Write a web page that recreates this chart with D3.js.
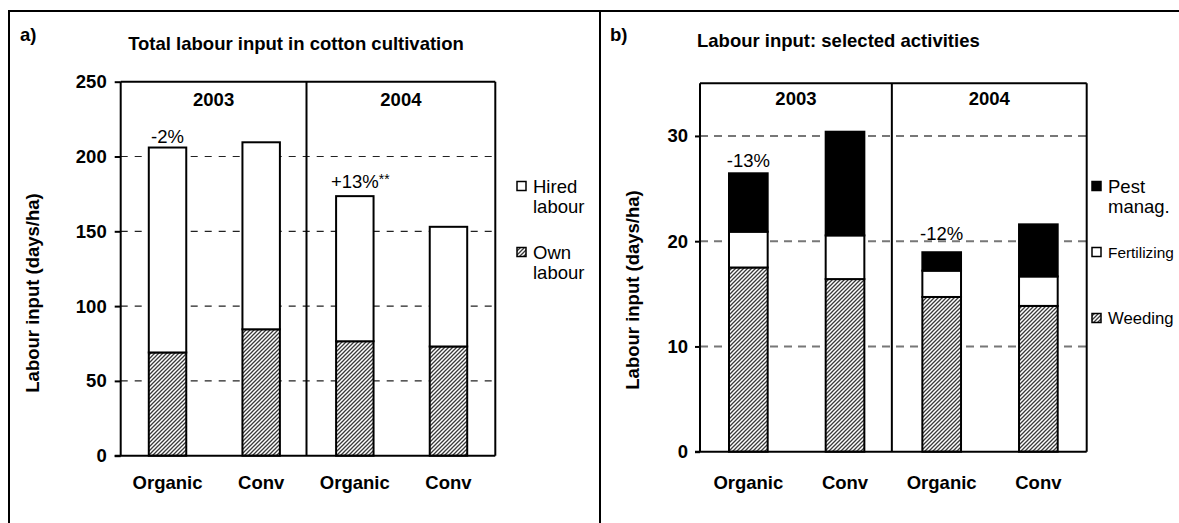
<!DOCTYPE html>
<html>
<head>
<meta charset="utf-8">
<script src="https://cdn.jsdelivr.net/npm/d3@7"></script>
<style>
  html, body { margin: 0; padding: 0; background: #fff; }
  svg { display: block; }
  text { font-family: "Liberation Sans", Arial, sans-serif; }
</style>
</head>
<body>
<svg id="chart" width="1179" height="523"></svg>
<script>
// ---------------- data ----------------
const categories = ["Organic", "Conv", "Organic", "Conv"];
const years = ["2003", "2004"];

// panel a: total labour (days/ha)
const ownLabour   = [69, 84.5, 76.5, 73];
const hiredLabour = [137, 125, 97, 80];
const annotA = ["-2%", "", "+13%", ""];
const annotSupA = ["", "", "**", ""];
const ticksA = [0, 50, 100, 150, 200, 250];

// panel b: selected activities (days/ha)
const weeding     = [17.5, 16.4, 14.7, 13.85];
const fertilizing = [3.4, 4.15, 2.5, 2.8];
const pestManag   = [5.55, 9.85, 1.75, 4.95];
const annotB = ["-13%", "", "-12%", ""];
const ticksB = [0, 10, 20, 30];

const legendA = ["Hired|labour", "Own|labour"];
const legendB = ["Pest|manag.", "Fertilizing", "Weeding"];

// ---------------- drawing ----------------
const svg = d3.select("#chart");
const W = 1179;
const FS = 18.5;
const FONT = '"Liberation Sans", Arial, sans-serif';

const defs = svg.append("defs");
const pat = defs.append("pattern")
  .attr("id", "hatch").attr("patternUnits", "userSpaceOnUse")
  .attr("width", 4).attr("height", 4);
pat.append("rect").attr("width", 4).attr("height", 4).attr("fill", "#fff");
pat.append("path").attr("d", "M-1,1 l2,-2 M0,4 l4,-4 M3,5 l2,-2")
  .attr("stroke", "#3a3a3a").attr("stroke-width", 1.3);

// panel borders
svg.append("line").attr("x1", 8).attr("x2", W).attr("y1", 11).attr("y2", 11)
  .attr("stroke", "#000").attr("stroke-width", 2);
svg.append("line").attr("x1", 9).attr("x2", 9).attr("y1", 10).attr("y2", 523)
  .attr("stroke", "#000").attr("stroke-width", 2);
svg.append("line").attr("x1", 600).attr("x2", 600).attr("y1", 10).attr("y2", 523)
  .attr("stroke", "#000").attr("stroke-width", 2);

function panel(cfg) {
  const g = svg.append("g");
  const x = d3.scaleBand().domain(d3.range(categories.length))
    .range(cfg.xRange).paddingInner(0.6).paddingOuter(0.3);
  const y = d3.scaleLinear().domain(cfg.yDomain).range(cfg.yRange);
  const [x0, x1] = cfg.xRange;

  // gridlines
  g.append("g").selectAll("line").data(cfg.ticks.filter(t => t > 0 && t < cfg.yDomain[1]))
    .join("line")
    .attr("x1", x0).attr("x2", x1)
    .attr("y1", d => y(d)).attr("y2", d => y(d))
    .attr("stroke", cfg.gridColor).attr("stroke-width", cfg.gridWidth)
    .attr("stroke-dasharray", cfg.gridDash);

  // stacked bars
  const stack = d3.stack().keys(d3.range(cfg.series.length))
    .value((d, k) => cfg.series[k][d]);
  const layers = stack(d3.range(categories.length));
  layers.forEach((layer, k) => {
    g.append("g").selectAll("rect").data(layer).join("rect")
      .attr("x", (d, i) => x(i))
      .attr("width", x.bandwidth())
      .attr("y", d => y(d[1]))
      .attr("height", d => y(d[0]) - y(d[1]))
      .attr("fill", cfg.fills[k])
      .attr("stroke", "#000").attr("stroke-width", 2);
  });

  // separator between years
  const sep = (x(1) + x.bandwidth() + x(2)) / 2 - 1.5;
  g.append("line").attr("x1", sep).attr("x2", sep)
    .attr("y1", y(cfg.yDomain[1])).attr("y2", y(0))
    .attr("stroke", "#000").attr("stroke-width", 2);
  // frame top & right
  g.append("line").attr("x1", x0).attr("x2", x1)
    .attr("y1", y(cfg.yDomain[1])).attr("y2", y(cfg.yDomain[1]))
    .attr("stroke", "#000").attr("stroke-width", 2);
  g.append("line").attr("x1", x1).attr("x2", x1)
    .attr("y1", y(cfg.yDomain[1])).attr("y2", y(0))
    .attr("stroke", "#000").attr("stroke-width", 2);

  // year labels
  const yearX = [(x0 + sep) / 2, (sep + x1) / 2];
  g.selectAll("text.year").data(years).join("text").attr("class", "year")
    .attr("x", (d, i) => yearX[i]).attr("y", cfg.yearY)
    .attr("text-anchor", "middle").attr("dominant-baseline", "central")
    .attr("font-size", FS).attr("font-weight", "bold").text(d => d);

  // y axis
  const ya = g.append("g").attr("transform", `translate(${x0},0)`)
    .call(d3.axisLeft(y).tickValues(cfg.ticks).tickSize(cfg.tickSize)
      .tickPadding(cfg.tickPad).tickFormat(d3.format("d")));
  ya.select(".domain").attr("stroke", "#000").attr("stroke-width", 2)
    .attr("d", `M0,${y(cfg.yDomain[1])}V${y(0)}`);
  ya.selectAll(".tick line").attr("stroke", "#000").attr("stroke-width", 2);
  ya.selectAll(".tick text").attr("font-family", FONT).attr("font-size", FS)
    .attr("font-weight", "bold").attr("fill", "#000");

  // x axis
  const xa = g.append("g").attr("transform", `translate(0,${y(0)})`)
    .call(d3.axisBottom(x).tickSize(0).tickPadding(cfg.xPad).tickFormat(i => categories[i]));
  xa.select(".domain").attr("stroke", "#000").attr("stroke-width", 2)
    .attr("d", `M${x0 - cfg.tickSize},0H${x1}`);
  xa.selectAll(".tick text").attr("font-family", FONT).attr("font-size", FS)
    .attr("font-weight", "bold").attr("fill", "#000");

  // annotations
  const totals = d3.range(categories.length).map(i => d3.sum(cfg.series, s => s[i]));
  cfg.annot.forEach((t, i) => {
    if (!t) return;
    const cx = x(i) + x.bandwidth() / 2;
    const ty = y(totals[i]) - cfg.annotOff[i];
    const txt = g.append("text").attr("x", cx).attr("y", ty)
      .attr("text-anchor", "middle").attr("dominant-baseline", "central")
      .attr("font-size", FS).text(t);
    if (cfg.annotSup && cfg.annotSup[i]) {
      const w = txt.node().getComputedTextLength();
      g.append("text").attr("x", cx + w / 2).attr("y", ty - 2)
        .attr("dominant-baseline", "central")
        .attr("font-size", FS * 0.75).text(cfg.annotSup[i]);
    }
  });

  // axis title
  g.append("text")
    .attr("transform", `translate(${cfg.axisTitleX},${cfg.axisTitleY}) rotate(-90)`)
    .attr("text-anchor", "middle").attr("dominant-baseline", "central")
    .attr("font-size", FS).attr("font-weight", "bold").text("Labour input (days/ha)");

  // legend
  cfg.legend.forEach((lab, k) => {
    const ly = cfg.legendY + k * cfg.legendStep;
    const fillIdx = cfg.series.length - 1 - k;
    g.append("rect").attr("x", cfg.legendX).attr("y", ly - 4.5)
      .attr("width", 9).attr("height", 9)
      .attr("fill", cfg.fills[fillIdx]).attr("stroke", "#000").attr("stroke-width", 1.5);
    lab.split("|").forEach((line, j) => {
      const tx = cfg.legendX + 16;
      const t = g.append("text").attr("x", tx).attr("y", ly + j * 20)
        .attr("dominant-baseline", "central").attr("font-size", FS).text(line);
      const avail = W - 5 - tx;
      const len = t.node().getComputedTextLength();
      if (len > avail) {
        t.attr("font-size", Math.floor(FS * avail / len * 10) / 10);
      }
    });
  });

  // panel title and letter
  g.append("text").attr("x", cfg.titleX).attr("y", cfg.titleY)
    .attr("text-anchor", cfg.titleAnchor).attr("dominant-baseline", "central")
    .attr("font-size", FS).attr("font-weight", "bold").text(cfg.title);
  g.append("text").attr("x", cfg.letterX).attr("y", 34)
    .attr("dominant-baseline", "central")
    .attr("font-size", FS).attr("font-weight", "bold").text(cfg.letter);
}

panel({
  xRange: [120.7, 495.3], yDomain: [0, 250], yRange: [455.7, 81.7],
  ticks: ticksA, series: [ownLabour, hiredLabour], fills: ["url(#hatch)", "#fff"],
  gridColor: "#222", gridWidth: 1.2, gridDash: "7,7",
  tickSize: 6, tickPad: 8, xPad: 20, yearY: 99,
  annot: annotA, annotSup: annotSupA, annotOff: [11, 0, 15, 0],
  axisTitleX: 32, axisTitleY: 293,
  legend: legendA, legendX: 517, legendY: 186, legendStep: 66,
  title: "Total labour input in cotton cultivation", titleX: 296, titleY: 43.5, titleAnchor: "middle",
  letter: "a)", letterX: 20
});

panel({
  xRange: [700, 1086.7], yDomain: [0, 35], yRange: [451.7, 83.3],
  ticks: ticksB, series: [weeding, fertilizing, pestManag], fills: ["url(#hatch)", "#fff", "#000"],
  gridColor: "#777", gridWidth: 2, gridDash: "8,6",
  tickSize: 5, tickPad: 7, xPad: 24, yearY: 98.5,
  annot: annotB, annotOff: [13, 0, 19, 0],
  axisTitleX: 632, axisTitleY: 290,
  legend: legendB, legendX: 1092, legendY: 186, legendStep: 66,
  title: "Labour input: selected activities", titleX: 697, titleY: 40, titleAnchor: "start",
  letter: "b)", letterX: 610
});
</script>
</body>
</html>
